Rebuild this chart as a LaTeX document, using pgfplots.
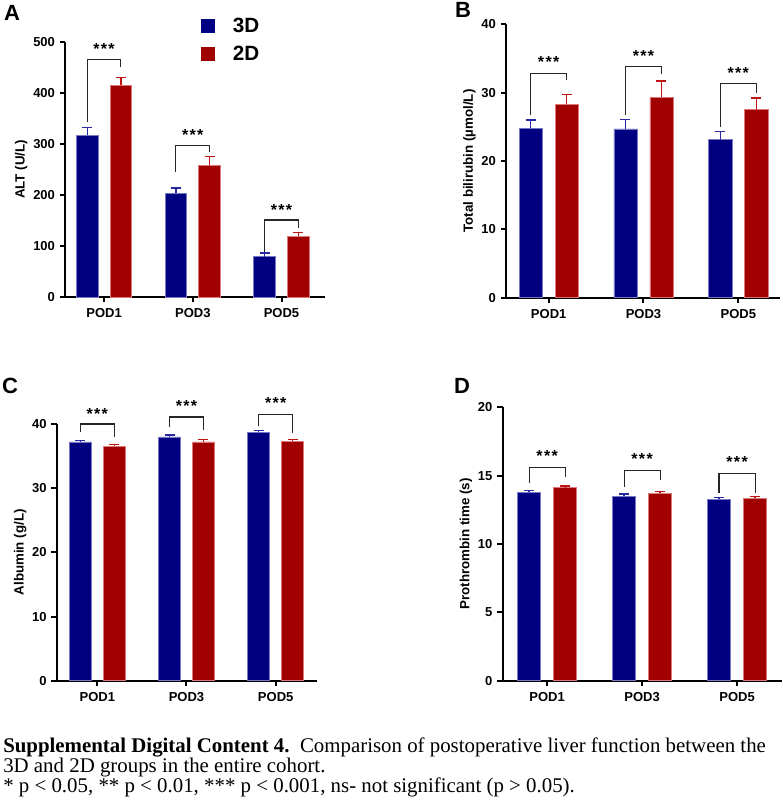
\documentclass[border=0pt]{standalone}
\usepackage{fontspec}
\setmainfont{Liberation Sans}
\newfontfamily\capfont{Liberation Serif}
\usepackage{pgfplots}
\usepackage{pgfplotstable}
\pgfplotsset{compat=1.18}
\definecolor{bblue}{RGB}{0,0,128}
\definecolor{bred}{RGB}{160,0,0}
\definecolor{bblueedge}{RGB}{120,120,200}
\definecolor{brededge}{RGB}{220,120,120}
\definecolor{bblueerr}{RGB}{40,40,160}
\definecolor{brederr}{RGB}{190,20,20}

% xb / xr: positions of the 3D and 2D bars beside each category (0, 1, 2)
\pgfplotstableread{
xb xr b be r re
-0.19 0.19 317 16 415 16
0.81 1.19 203 11 258 17
1.81 2.19 79 7 119 7
}\tabA
\pgfplotstableread{
xb xr b be r re
-0.19 0.19 24.8 1.2 28.3 1.4
0.81 1.19 24.7 1.4 29.3 2.4
1.81 2.19 23.1 1.2 27.5 1.7
}\tabB
\pgfplotstableread{
xb xr b be r re
-0.19 0.19 37.2 0.2 36.5 0.3
0.81 1.19 38.0 0.3 37.2 0.4
1.81 2.19 38.7 0.3 37.3 0.3
}\tabC
\pgfplotstableread{
xb xr b be r re
-0.19 0.19 13.78 0.15 14.12 0.12
0.81 1.19 13.51 0.15 13.73 0.12
1.81 2.19 13.27 0.15 13.34 0.15
}\tabD

\pgfplotsset{
  prism/.style={
    scale only axis, clip=false,
    axis x line*=bottom, axis y line*=left,
    axis line style={line width=1.5pt, -},
    every tick/.style={line width=1.5pt, black},
    major tick length=4pt,
    tick align=outside,
    xtick={0,1,2}, xticklabels={POD1,POD3,POD5},
    minor tick num=0,
    ymin=0,
    tick label style={font=\bfseries\fontsize{9.75}{11}\selectfont},
    xticklabel style={yshift=-1pt},
    /pgf/number format/assume math mode=true,
    ylabel style={font=\bfseries\fontsize{10}{11}\selectfont},
    ylabel shift=-2.5pt,
  },
  bluebar/.style={forget plot, ybar, bar width=0.245, bar shift=0pt,
    fill=bblue, draw=bblueedge, line width=0.5pt,
    error bars/.cd, y dir=plus, y explicit,
    error bar style={line width=1pt, color=bblueerr},
    error mark options={rotate=90, line width=1pt, mark size=3.75pt, color=bblueerr}},
  redbar/.style={forget plot, ybar, bar width=0.245, bar shift=0pt,
    fill=bred, draw=brededge, line width=0.5pt,
    error bars/.cd, y dir=plus, y explicit,
    error bar style={line width=1pt, color=brederr},
    error mark options={rotate=90, line width=1pt, mark size=3.75pt, color=brederr}},
  brk/.style={forget plot, black!85, line width=0.8pt},
}
\tikzset{stars/.style={anchor=base, yshift=-6pt, inner sep=0pt, font=\bfseries\fontsize{12}{13}\selectfont}}
\newcommand{\st}{*\kern1pt*\kern1pt*}

\begin{document}
\begin{tikzpicture}
\useasboundingbox (0pt,0pt) rectangle (587.25pt,600.75pt);

% Panel A
\begin{axis}[prism, at={(48.75pt,378pt)}, anchor=south west,
  width=195pt, height=191.25pt, xmin=-0.44, xmax=2.49, ymax=500,
  ytick={0,100,...,500}, ylabel={ALT (U/L)},
  legend style={at={(axis description cs:0.505,1.116)}, anchor=north west,
    draw=none, fill=none, font=\bfseries\fontsize{15.5}{17}\selectfont,
    row sep=4.5pt, /tikz/every odd column/.append style={column sep=12pt}},
  legend cell align=left]
\addlegendimage{legend image code/.code={\fill[bblue] (0pt,-4.875pt) rectangle (9.75pt,4.875pt);}}
\addlegendentry{3D}
\addlegendimage{legend image code/.code={\fill[bred] (0pt,-4.875pt) rectangle (9.75pt,4.875pt);}}
\addlegendentry{2D}
\addplot[bluebar] table[x=xb, y=b, y error=be] {\tabA};
\addplot[redbar] table[x=xr, y=r, y error=re] {\tabA};
\addplot[brk] coordinates {(-0.19,344) (-0.19,465) (0.19,465) (0.19,451)};
\addplot[brk] coordinates {(0.81,246) (0.81,297) (1.19,297) (1.19,285)};
\addplot[brk] coordinates {(1.81,88) (1.81,151) (2.19,151) (2.19,136)};
\node[stars] at (axis cs:0,491) {\st};
\node[stars] at (axis cs:1,322) {\st};
\node[stars] at (axis cs:2,176) {\st};
\end{axis}

% Panel B
\begin{axis}[prism, at={(379.5pt,377.475pt)}, anchor=south west,
  width=205.5pt, height=205.05pt, xmin=-0.45, xmax=2.44, ymax=40,
  ytick={0,10,...,40}, ylabel={Total bilirubin (µmol/L)}]
\addplot[bluebar] table[x=xb, y=b, y error=be] {\tabB};
\addplot[redbar] table[x=xr, y=r, y error=re] {\tabB};
\addplot[brk] coordinates {(-0.19,26.7) (-0.19,32.8) (0.19,32.8) (0.19,31.9)};
\addplot[brk] coordinates {(0.81,26.7) (0.81,33.8) (1.19,33.8) (1.19,32.8)};
\addplot[brk] coordinates {(1.81,25.0) (1.81,31.4) (2.19,31.4) (2.19,30.0)};
\node[stars] at (axis cs:0,34.9) {\st};
\node[stars] at (axis cs:1,35.8) {\st};
\node[stars] at (axis cs:2,33.3) {\st};
\end{axis}

% Panel C
\begin{axis}[prism, at={(42.525pt,90.225pt)}, anchor=south west,
  width=195pt, height=192.5pt, xmin=-0.455, xmax=2.46, ymax=40,
  ytick={0,10,...,40}, ylabel={Albumin (g/L)}]
\addplot[bluebar] table[x=xb, y=b, y error=be] {\tabC};
\addplot[redbar] table[x=xr, y=r, y error=re] {\tabC};
\addplot[brk] coordinates {(-0.19,38.7) (-0.19,40.0) (0.19,40.0) (0.19,38.0)};
\addplot[brk] coordinates {(0.81,39.5) (0.81,41.1) (1.19,41.1) (1.19,39.0)};
\addplot[brk] coordinates {(1.81,39.7) (1.81,41.5) (2.19,41.5) (2.19,38.6)};
\node[stars] at (axis cs:0,41.9) {\st};
\node[stars] at (axis cs:1,43.2) {\st};
\node[stars] at (axis cs:2,43.6) {\st};
\end{axis}

% Panel D
\begin{axis}[prism, at={(376.875pt,90.225pt)}, anchor=south west,
  width=209.4pt, height=205.05pt, xmin=-0.47, xmax=2.47, ymax=20,
  ytick={0,5,...,20}, ylabel={Prothrombin time (s)}]
\addplot[bluebar] table[x=xb, y=b, y error=be] {\tabD};
\addplot[redbar] table[x=xr, y=r, y error=re] {\tabD};
\addplot[brk] coordinates {(-0.19,14.44) (-0.19,15.6) (0.19,15.6) (0.19,14.88)};
\addplot[brk] coordinates {(0.81,14.19) (0.81,15.36) (1.19,15.36) (1.19,14.68)};
\addplot[brk] coordinates {(1.81,13.75) (1.81,15.17) (2.19,15.17) (2.19,13.75)};
\node[stars] at (axis cs:0,16.63) {\st};
\node[stars] at (axis cs:1,16.4) {\st};
\node[stars] at (axis cs:2,16.15) {\st};
\end{axis}

% panel letters
\node[font=\bfseries\fontsize{16.5}{18}\selectfont, inner sep=0pt] at (9pt,591pt) {A};
\node[font=\bfseries\fontsize{16.5}{18}\selectfont, inner sep=0pt] at (347.25pt,593.25pt) {B};
\node[font=\bfseries\fontsize{16.5}{18}\selectfont, inner sep=0pt] at (7.5pt,311.25pt) {C};
\node[font=\bfseries\fontsize{16.5}{18}\selectfont, inner sep=0pt] at (346.5pt,311.25pt) {D};

% caption
\begin{scope}[every node/.style={anchor=base west, inner sep=0pt, font=\capfont\fontsize{15.65}{17}\selectfont}]
\node at (2.25pt,36pt) {\textbf{Supplemental Digital Content 4.}\ \ Comparison of postoperative liver function between the};
\node at (2.25pt,21.5pt) {3D and 2D groups in the entire cohort.};
\node at (2.25pt,6.5pt) {* p < 0.05, ** p < 0.01, *** p < 0.001, ns- not significant (p > 0.05).};
\end{scope}
\end{tikzpicture}
\end{document}
